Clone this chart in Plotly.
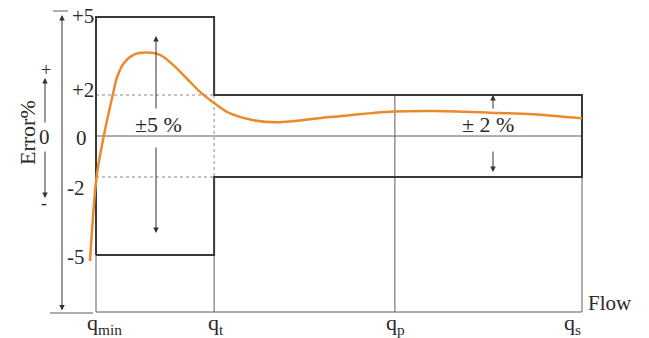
import plotly.graph_objects as go

# ---------------- data ----------------
flow_names = ["min", "t", "p", "s"]
flow_points = [0.0, 24.3, 61.5, 100.0]          # relative flow scale q_min .. q_s
outer_tol = 5                                    # ±5 % below q_t
inner_tol = 2                                    # ±2 % above q_t
error_ticks = [5, 2, 0, -2, -5]
error_tick_text = ["+5", "+2", "0", "-2", "-5"]
curve_flow = [-1.23, 0.14, 1.6, 3.44, 4.4, 5.8, 7.8, 10.43, 13.17,
              15.9, 18.66, 21.4, 24.28, 27.0, 32.7, 37.2, 48.8, 61.3, 69.3, 81.1, 89.9, 100.0]
curve_error = [-5.23, -1.95, 0.0, 2.0, 2.72, 3.24, 3.55, 3.63, 3.54,
               3.15, 2.64, 2.12, 1.61, 1.17, 0.76, 0.67, 0.94, 1.19, 1.22, 1.14, 1.06, 0.86]

# ---------------- schematic display scale ----------------
W, H = 649, 338
X0_PX, XS_PX, Y0_PX = 96, 582, 136
PX_PER_FLOW = (XS_PX - X0_PX) / 100.0
INNER_PX, OUTER_PX = 20.5, 26.0


def disp(v):
    """schematic (piecewise) error scale -> display units (pixels above 0)"""
    a = abs(v)
    d = a * INNER_PX if a <= inner_tol else inner_tol * INNER_PX + (a - inner_tol) * OUTER_PX
    return d if v >= 0 else -d


BASE = -(312 - Y0_PX)       # flow-axis baseline in display units

q0, qt, qp, qs = flow_points
FONT = "Liberation Serif"
DARK = "#383838"
THIN = "#5c5c5c"
ORANGE = "#EA8A2C"
TXT = "#2a2a2a"


def P(x, y):
    return x / W, 1 - y / H


fig = go.Figure()

# thin grid lines
tx = [q0, qs, None, q0, q0, None, qt, qt, None, qp, qp, None, qs, qs, None, q0, qs]
ty = [0, 0, None, disp(-outer_tol), BASE, None, disp(-outer_tol), BASE, None,
      disp(inner_tol), BASE, None, disp(-inner_tol), BASE, None, BASE, BASE]
fig.add_trace(go.Scatter(x=tx, y=ty, mode="lines", line=dict(color=THIN, width=1),
                         hoverinfo="skip", showlegend=False))

# dashed guides
dx = [q0, qt, None, q0, qt, None, qt, qt]
dy = [disp(inner_tol), disp(inner_tol), None, disp(-inner_tol), disp(-inner_tol), None,
      disp(inner_tol), disp(-inner_tol)]
fig.add_trace(go.Scatter(x=dx, y=dy, mode="lines",
                         line=dict(color="#8a8a8a", width=1, dash="3px,3px"),
                         hoverinfo="skip", showlegend=False))

# tolerance envelope
ex = [q0, q0, qt, qt, qs, qs, qt, qt, q0]
ey = [-outer_tol, outer_tol, outer_tol, inner_tol, inner_tol, -inner_tol, -inner_tol,
      -outer_tol, -outer_tol]
fig.add_trace(go.Scatter(x=ex, y=[disp(v) for v in ey], mode="lines",
                         line=dict(color=DARK, width=2), hoverinfo="skip", showlegend=False))

# error curve
fig.add_trace(go.Scatter(x=curve_flow, y=[disp(v) for v in curve_error], mode="lines",
                         line=dict(color=ORANGE, width=2.5, shape="spline", smoothing=0.9),
                         hoverinfo="skip", showlegend=False))

ann = []


def text(xp, yp, s, size=19, xanchor="center", yanchor="middle", angle=0):
    x, y = P(xp, yp)
    ann.append(dict(x=x, y=y, xref="paper", yref="paper", text=s, showarrow=False,
                    xanchor=xanchor, yanchor=yanchor, textangle=angle,
                    font=dict(family=FONT, size=size, color=TXT)))


def arrow(hx, hy, tx_, ty_, both=False):
    x, y = P(hx, hy)
    ann.append(dict(x=x, y=y, xref="paper", yref="paper", text="", showarrow=True,
                    ax=tx_ - hx, ay=ty_ - hy, arrowhead=2, arrowsize=1.1, arrowwidth=1,
                    arrowcolor="#333333", arrowside="end+start" if both else "end",
                    standoff=0, startstandoff=0))


# error tick labels (schematic y positions)
tick_pos = {5: (96, 16), 2: (96, 90), 0: (89, 138), -2: (87, 188), -5: (87, 257)}
for v, s in zip(error_ticks, error_tick_text):
    xp, yp = tick_pos[v]
    text(xp, yp, s, size=21, xanchor="right")

# flow labels
flow_px = {"min": 85, "t": 206, "p": 384, "s": 562}
for n in flow_names:
    text(flow_px[n], 324, "q<sub>" + n + "</sub>", size=22, xanchor="left")
text(586, 303, "Flow", size=21, xanchor="left")

# y title and sign indicator
text(27, 133, "Error%", size=22, angle=-90)
text(46, 70, "+", size=18)
text(45, 137, "0", size=21)
text(44, 203, "-", size=18)
arrow(45, 78, 45, 124)
arrow(45, 198, 45, 150)

# main vertical span arrow
arrow(62, 15, 62, 312, both=True)

# tolerance labels and arrows
text(158, 124, "±5 %", size=22)
arrow(156, 36, 156, 110)
arrow(156, 233, 156, 146)
text(488, 124, "± 2 %", size=22)
arrow(493, 95, 493, 110)
arrow(493, 172, 493, 150)

shapes = []
for (xa, ya, xb, yb) in [(53, 11, 68, 11), (50, 313, 93, 313)]:
    a = P(xa, ya)
    b = P(xb, yb)
    shapes.append(dict(type="line", xref="paper", yref="paper", x0=a[0], y0=a[1],
                       x1=b[0], y1=b[1], line=dict(color=THIN, width=1)))

fig.update_layout(
    width=W, height=H, autosize=False,
    margin=dict(l=0, r=0, t=0, b=0),
    paper_bgcolor="white", plot_bgcolor="white",
    font=dict(family=FONT),
    xaxis=dict(range=[-X0_PX / PX_PER_FLOW, (W - X0_PX) / PX_PER_FLOW], visible=False,
               fixedrange=True),
    yaxis=dict(range=[-(H - Y0_PX), Y0_PX], visible=False, fixedrange=True),
    annotations=ann, shapes=shapes, showlegend=False,
)

fig.write_html("out.html", config={"displayModeBar": False},
               post_script="document.body.style.margin='0';document.body.style.overflow='hidden';")
